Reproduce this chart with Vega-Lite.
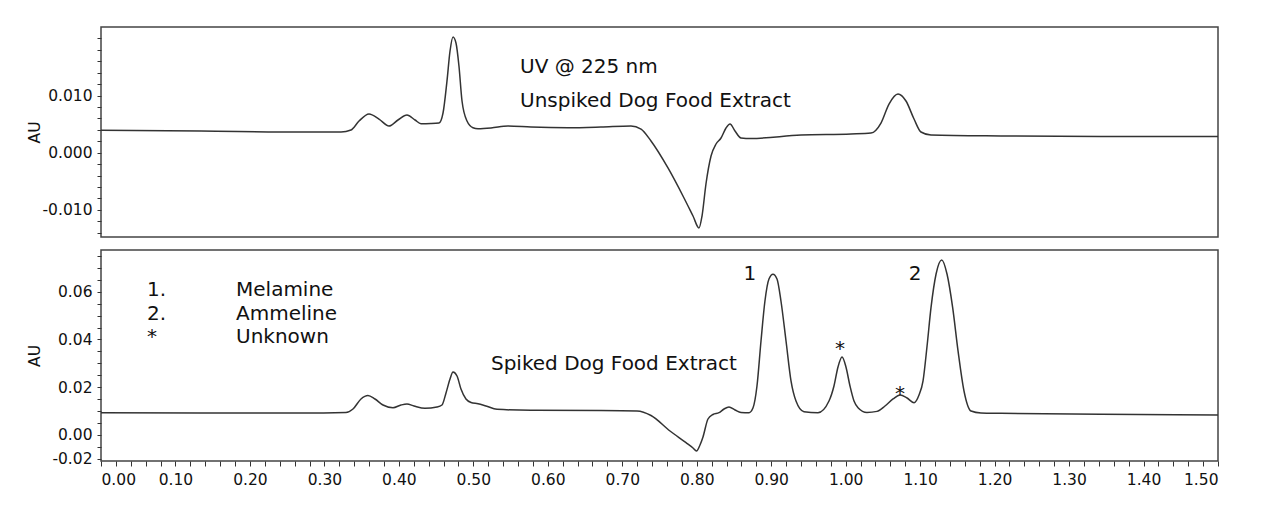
{
  "$schema": "https://vega.github.io/schema/vega-lite/v6.json",
  "background": "white",
  "padding": {"left": 26, "top": 26, "right": 0, "bottom": 0},
  "spacing": 13,
  "bounds": "flush",
  "datasets": {
    "top": [
      {"x":0,"y":0.00392},{"x":0.1343,"y":0.00379},{"x":0.2686,"y":0.00362},{"x":0.3223,"y":0.00362},{"x":0.3357,"y":0.00397},{"x":0.3465,"y":0.00554},{"x":0.3599,"y":0.00677},{"x":0.3733,"y":0.00589},{"x":0.3867,"y":0.00467},{"x":0.3988,"y":0.00572},{"x":0.4109,"y":0.00659},{"x":0.4217,"y":0.00572},{"x":0.4297,"y":0.00507},{"x":0.4431,"y":0.0051},{"x":0.4539,"y":0.00519},{"x":0.4593,"y":0.00694},{"x":0.4646,"y":0.01253},{"x":0.4687,"y":0.01778},{"x":0.4727,"y":0.02023},{"x":0.4767,"y":0.01918},{"x":0.4807,"y":0.01516},{"x":0.4848,"y":0.00904},{"x":0.4915,"y":0.00554},{"x":0.4995,"y":0.00437},{"x":0.5063,"y":0.0042},{"x":0.5237,"y":0.00432},{"x":0.5465,"y":0.00467},{"x":0.5774,"y":0.00449},{"x":0.6271,"y":0.00437},{"x":0.6714,"y":0.00449},{"x":0.7117,"y":0.00467},{"x":0.7252,"y":0.00414},{"x":0.7386,"y":0.00205},{"x":0.7614,"y":-0.00267},{"x":0.7829,"y":-0.00792},{"x":0.795,"y":-0.01107},{"x":0.803,"y":-0.01316},{"x":0.8071,"y":-0.01107},{"x":0.8124,"y":-0.00547},{"x":0.8192,"y":-0.00058},{"x":0.8259,"y":0.00152},{"x":0.8326,"y":0.00257},{"x":0.8393,"y":0.00432},{"x":0.8447,"y":0.00502},{"x":0.8514,"y":0.00379},{"x":0.8594,"y":0.00257},{"x":0.8729,"y":0.00248},{"x":0.94,"y":0.00309},{"x":1.0072,"y":0.00327},{"x":1.034,"y":0.00344},{"x":1.0474,"y":0.00519},{"x":1.0582,"y":0.00851},{"x":1.0703,"y":0.01026},{"x":1.081,"y":0.00904},{"x":1.0918,"y":0.00589},{"x":1.1011,"y":0.00362},{"x":1.1146,"y":0.00309},{"x":1.2086,"y":0.00292},{"x":1.3429,"y":0.00283},{"x":1.5,"y":0.00283}
    ],
    "bottom": [
      {"x":0,"y":0.0093},{"x":0.1343,"y":0.00918},{"x":0.2686,"y":0.00918},{"x":0.329,"y":0.00939},{"x":0.3384,"y":0.01085},{"x":0.3491,"y":0.01504},{"x":0.3585,"y":0.01651},{"x":0.3679,"y":0.01504},{"x":0.3787,"y":0.01253},{"x":0.3921,"y":0.0114},{"x":0.4029,"y":0.01253},{"x":0.4109,"y":0.01295},{"x":0.4203,"y":0.01211},{"x":0.4351,"y":0.01115},{"x":0.4512,"y":0.01169},{"x":0.4579,"y":0.01253},{"x":0.4633,"y":0.01756},{"x":0.4687,"y":0.02342},{"x":0.4727,"y":0.02636},{"x":0.4781,"y":0.02468},{"x":0.4834,"y":0.01923},{"x":0.4901,"y":0.01504},{"x":0.4969,"y":0.01358},{"x":0.5063,"y":0.01307},{"x":0.517,"y":0.01211},{"x":0.5318,"y":0.01073},{"x":0.5774,"y":0.01031},{"x":0.6714,"y":0.01022},{"x":0.7198,"y":0.01001},{"x":0.7386,"y":0.00813},{"x":0.7641,"y":0.00163},{"x":0.7856,"y":-0.00327},{"x":0.795,"y":-0.00549},{"x":0.7997,"y":-0.00675},{"x":0.8044,"y":-0.00423},{"x":0.8084,"y":-0.00088},{"x":0.8151,"y":0.00666},{"x":0.8218,"y":0.00855},{"x":0.8299,"y":0.0093},{"x":0.8366,"y":0.01085},{"x":0.8433,"y":0.01169},{"x":0.8514,"y":0.01043},{"x":0.8594,"y":0.00939},{"x":0.8702,"y":0.0093},{"x":0.8755,"y":0.01127},{"x":0.8809,"y":0.02049},{"x":0.8863,"y":0.03935},{"x":0.8916,"y":0.05611},{"x":0.897,"y":0.06533},{"x":0.9024,"y":0.0673},{"x":0.9078,"y":0.06533},{"x":0.9131,"y":0.05611},{"x":0.9199,"y":0.03935},{"x":0.9266,"y":0.02263},{"x":0.9333,"y":0.0142},{"x":0.944,"y":0.00972},{"x":0.9628,"y":0.0093},{"x":0.9776,"y":0.0142},{"x":0.9843,"y":0.02049},{"x":0.9897,"y":0.02845},{"x":0.9951,"y":0.03264},{"x":1.0004,"y":0.02845},{"x":1.0058,"y":0.02049},{"x":1.0112,"y":0.0142},{"x":1.0166,"y":0.0114},{"x":1.0286,"y":0.00939},{"x":1.0421,"y":0.00985},{"x":1.0528,"y":0.01211},{"x":1.0636,"y":0.01505},{"x":1.073,"y":0.01672},{"x":1.0824,"y":0.01546},{"x":1.0918,"y":0.01349},{"x":1.0985,"y":0.01672},{"x":1.1039,"y":0.02263},{"x":1.1093,"y":0.03725},{"x":1.1146,"y":0.0533},{"x":1.1214,"y":0.06742},{"x":1.129,"y":0.07329},{"x":1.1361,"y":0.06742},{"x":1.1437,"y":0.0533},{"x":1.1509,"y":0.0352},{"x":1.1589,"y":0.0184},{"x":1.1683,"y":0.01001},{"x":1.1817,"y":0.00918},{"x":1.2086,"y":0.00905},{"x":1.3429,"y":0.00863},{"x":1.5,"y":0.00834}
    ],
    "topText": [
      {"x":0.5627,"y":0.01393,"label":"UV @ 225 nm"},
      {"x":0.5627,"y":0.00799,"label":"Unspiked Dog Food Extract"}
    ],
    "bottomText": [
      {"x":0.0618,"y":0.0582,"label":"1."},
      {"x":0.0618,"y":0.0481,"label":"2."},
      {"x":0.0618,"y":0.0385,"label":"*"},
      {"x":0.1813,"y":0.0582,"label":"Melamine"},
      {"x":0.1813,"y":0.0481,"label":"Ammeline"},
      {"x":0.1813,"y":0.0385,"label":"Unknown"},
      {"x":0.5237,"y":0.0272,"label":"Spiked Dog Food Extract"}
    ],
    "peakText": [
      {"x":0.8715,"y":0.0649,"label":"1"},
      {"x":1.0931,"y":0.0649,"label":"2"},
      {"x":0.9923,"y":0.0335,"label":"*"},
      {"x":1.0729,"y":0.0146,"label":"*"}
    ]
  },
  "vconcat": [
    {
      "width": 1117,
      "height": 210,
      "encoding": {
        "x": {"field": "x", "type": "quantitative", "scale": {"domain": [0, 1.5], "nice": false, "zero": false}, "axis": null},
        "y": {"field": "y", "type": "quantitative", "scale": {"domain": [-0.01474, 0.02198], "nice": false, "zero": false},
          "axis": {"title": "AU", "titleX": -59, "values": [-0.014,-0.012,-0.01,-0.008,-0.006,-0.004,-0.002,0,0.002,0.004,0.006,0.008,0.01,0.012,0.014,0.016,0.018,0.02],
            "labelExpr": "(abs(datum.value) < 0.0105 && abs(datum.value*100 - round(datum.value*100)) < 0.001) ? (datum.value < 0 ? '-' + format(-datum.value, '.3f') : format(datum.value, '.3f')) : ''"}}
      },
      "layer": [
        {"data": {"name": "top"}, "mark": {"type": "line", "stroke": "#333", "strokeWidth": 1.5, "interpolate": "monotone"}, "encoding": {}},
        {"data": {"name": "topText"}, "mark": {"type": "text", "align": "left", "baseline": "alphabetic", "font": "DejaVu Sans", "fontSize": 20, "color": "#111"},
          "encoding": {"text": {"field": "label"}}}
      ]
    },
    {
      "width": 1117,
      "height": 211,
      "encoding": {
        "x": {"field": "x", "type": "quantitative", "scale": {"domain": [0, 1.5], "nice": false, "zero": false},
          "axis": {"title": null, "values": [0,0.02,0.04,0.06,0.08,0.1,0.12,0.14,0.16,0.18,0.2,0.22,0.24,0.26,0.28,0.3,0.32,0.34,0.36,0.38,0.4,0.42,0.44,0.46,0.48,0.5,0.52,0.54,0.56,0.58,0.6,0.62,0.64,0.66,0.68,0.7,0.72,0.74,0.76,0.78,0.8,0.82,0.84,0.86,0.88,0.9,0.92,0.94,0.96,0.98,1,1.02,1.04,1.06,1.08,1.1,1.12,1.14,1.16,1.18,1.2,1.22,1.24,1.26,1.28,1.3,1.32,1.34,1.36,1.38,1.4,1.42,1.44,1.46,1.48,1.5],
            "labelExpr": "abs(datum.value*10 - round(datum.value*10)) < 0.01 ? format(datum.value, '.2f') : ''"}},
        "y": {"field": "y", "type": "quantitative", "scale": {"domain": [-0.01094, 0.07748], "nice": false, "zero": false},
          "axis": {"title": "AU", "titleX": -59, "values": [-0.01,-0.005,0,0.005,0.01,0.015,0.02,0.025,0.03,0.035,0.04,0.045,0.05,0.055,0.06,0.065,0.07,0.075],
            "labelExpr": "datum.value < -0.009 ? '-0.02' : (abs(datum.value*50 - round(datum.value*50)) < 0.001 ? format(datum.value, '.2f') : '')"}}
      },
      "layer": [
        {"data": {"name": "bottom"}, "mark": {"type": "line", "stroke": "#333", "strokeWidth": 1.5, "interpolate": "monotone"}, "encoding": {}},
        {"data": {"name": "bottomText"}, "mark": {"type": "text", "align": "left", "baseline": "alphabetic", "font": "DejaVu Sans", "fontSize": 20, "color": "#111"},
          "encoding": {"text": {"field": "label"}}},
        {"data": {"name": "peakText"}, "mark": {"type": "text", "align": "center", "baseline": "alphabetic", "font": "DejaVu Sans", "fontSize": 20, "color": "#111"},
          "encoding": {"text": {"field": "label"}}}
      ]
    }
  ],
  "config": {
    "view": {"stroke": "#444", "strokeWidth": 1.5},
    "axis": {"domain": false, "grid": false, "ticks": true, "tickColor": "#333", "tickWidth": 1,
      "labelFont": "DejaVu Sans", "labelFontSize": 15.5, "labelColor": "#111", "labelOverlap": false,
      "titleFont": "DejaVu Sans", "titleFontSize": 15.5, "titleFontWeight": "normal", "titleColor": "#111"},
    "axisY": {"tickSize": 4, "labelPadding": 5},
    "axisX": {"tickSize": 5, "labelPadding": 6}
  }
}
